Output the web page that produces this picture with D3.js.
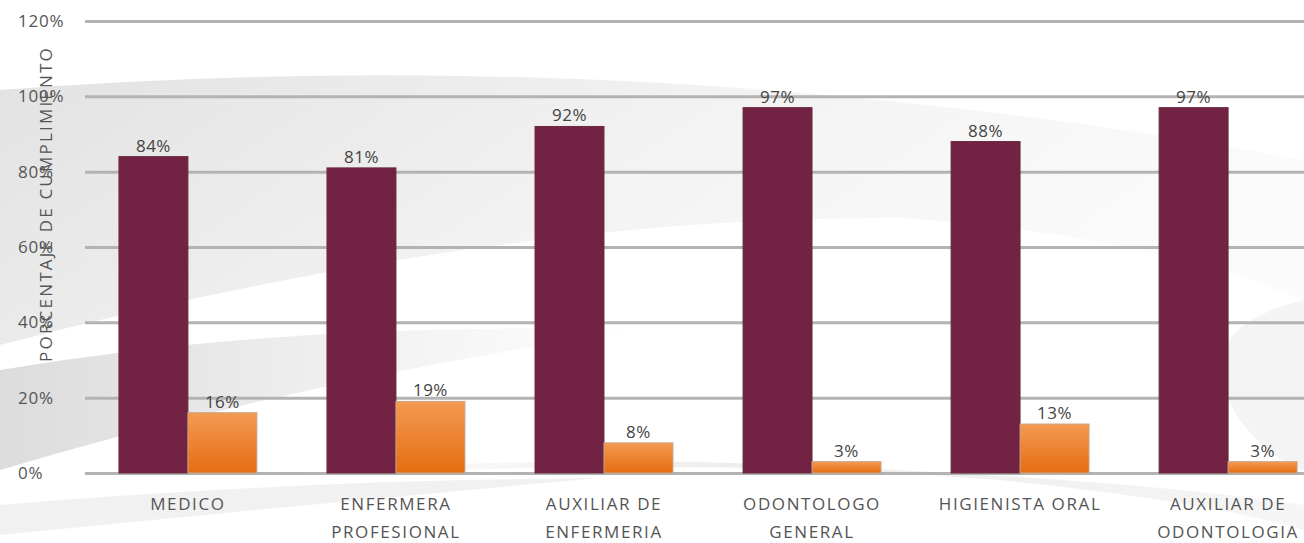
<!DOCTYPE html>
<html>
<head>
<meta charset="utf-8">
<script src="https://cdn.jsdelivr.net/npm/d3@7"></script>
<style>
  body { margin: 0; background: #fff; overflow: hidden; }
  svg { display: block; font-family: "Open Sans", sans-serif; }
  .tick-label { fill: #555; font-size: 17px; letter-spacing: 0.8px; }
  .cat-label { fill: #555; font-size: 17px; letter-spacing: 1.6px; }
  .value-label { fill: #444; font-size: 17px; letter-spacing: 0.5px; }
  .axis-title { fill: #555; font-size: 17px; letter-spacing: 2.2px; }
</style>
</head>
<body>
<svg></svg>
<script>
// Data
let categories = [
    ['MEDICO'],
    ['ENFERMERA', 'PROFESIONAL'],
    ['AUXILIAR DE', 'ENFERMERIA'],
    ['ODONTOLOGO', 'GENERAL'],
    ['HIGIENISTA ORAL'],
    ['AUXILIAR DE', 'ODONTOLOGIA']
]
let cumple = [84, 81, 92, 97, 88, 97]
let noCumple = [16, 19, 8, 3, 13, 3]
let yTicks = [0, 20, 40, 60, 80, 100, 120]

let width = 1304
let height = 543

let svg = d3.select('svg')
    .attr('width', width)
    .attr('height', height)

let defs = svg.append('defs')

// Orange bar gradient
let og = defs.append('linearGradient')
    .attr('id', 'orange')
    .attr('x1', 0).attr('y1', 0).attr('x2', 0).attr('y2', 1)
og.append('stop').attr('offset', '0%').attr('stop-color', '#f49a52')
og.append('stop').attr('offset', '100%').attr('stop-color', '#e56d12')

// Background swoosh gradients
let bg1 = defs.append('linearGradient')
    .attr('id', 'bg1')
    .attr('x1', 0).attr('y1', 0).attr('x2', 1).attr('y2', 0.3)
bg1.append('stop').attr('offset', '0%').attr('stop-color', '#e2e2e2')
bg1.append('stop').attr('offset', '55%').attr('stop-color', '#f3f3f3')
bg1.append('stop').attr('offset', '100%').attr('stop-color', '#fbfbfb')

let bg2 = defs.append('linearGradient')
    .attr('id', 'bg2')
    .attr('x1', 0).attr('y1', 0).attr('x2', 1).attr('y2', 0)
bg2.append('stop').attr('offset', '0%').attr('stop-color', '#dcdcdc')
bg2.append('stop').attr('offset', '60%').attr('stop-color', '#f2f2f2')
bg2.append('stop').attr('offset', '100%').attr('stop-color', '#ffffff')

let bg3 = defs.append('linearGradient')
    .attr('id', 'bg3')
    .attr('x1', 0).attr('y1', 0).attr('x2', 1).attr('y2', 0)
bg3.append('stop').attr('offset', '0%').attr('stop-color', '#ffffff')
bg3.append('stop').attr('offset', '50%').attr('stop-color', '#ececec')
bg3.append('stop').attr('offset', '100%').attr('stop-color', '#f6f6f6')

// Background decoration
let back = svg.append('g')
back.append('path')
    .attr('d', 'M0,90 Q650,40 1304,160 L1304,300 Q1150,235 900,218 Q500,215 0,345 Z')
    .attr('fill', 'url(#bg1)')
back.append('path')
    .attr('d', 'M0,370 Q300,320 640,330 Q300,380 0,470 Z')
    .attr('fill', 'url(#bg2)')
back.append('path')
    .attr('d', 'M1304,300 Q1180,330 1240,420 Q1270,460 1304,470 Z')
    .attr('fill', '#f4f4f4')
back.append('path')
    .attr('d', 'M250,478 Q700,455 1000,480 Q1200,500 1304,530 L1304,505 Q1100,475 700,462 Q450,458 250,478 Z')
    .attr('fill', 'url(#bg3)')
back.append('path')
    .attr('d', 'M0,505 Q300,480 600,478 Q300,505 0,535 Z')
    .attr('fill', '#f1f1f1')

// Scales
let x = d3.scaleBand()
    .domain(d3.range(categories.length))
    .range([84, 1332])
    .paddingInner(0.337)
    .paddingOuter(0.168)

let sub = d3.scaleBand()
    .domain(['cumple', 'noCumple'])
    .range([0, x.bandwidth()])

let y = d3.scaleLinear()
    .domain([0, 120])
    .range([473, 21])

// Grid
let grid = d3.axisLeft(y)
    .tickValues(yTicks)
    .tickFormat('')
    .tickSize(-(width - 85))

let gridG = svg.append('g')
    .attr('transform', 'translate(85,0)')
    .call(grid)
gridG.select('.domain').remove()
gridG.selectAll('line')
    .attr('stroke', '#b3b3b3')
    .attr('stroke-width', 3)

// Y tick labels
svg.append('g')
    .selectAll('text')
    .data(yTicks)
    .join('text')
    .attr('class', 'tick-label')
    .attr('x', 18)
    .attr('y', d => y(d))
    .attr('dy', '0.36em')
    .text(d => d + '%')

// Y axis title
svg.append('text')
    .attr('class', 'axis-title')
    .attr('transform', 'translate(52,204) rotate(-90)')
    .attr('text-anchor', 'middle')
    .text('PORCENTAJE DE CUMPLIMIENTO')

// Bars
let groups = svg.append('g')
    .selectAll('g')
    .data(categories)
    .join('g')
    .attr('transform', (d, i) => `translate(${x(i)},0)`)

groups.append('rect')
    .attr('x', sub('cumple'))
    .attr('y', (d, i) => y(cumple[i]))
    .attr('width', sub.bandwidth())
    .attr('height', (d, i) => y(0) - y(cumple[i]))
    .attr('fill', '#722242')
    .attr('stroke', '#6a2a40')
    .attr('stroke-width', 1)

groups.append('rect')
    .attr('x', sub('noCumple'))
    .attr('y', (d, i) => y(noCumple[i]))
    .attr('width', sub.bandwidth())
    .attr('height', (d, i) => y(0) - y(noCumple[i]))
    .attr('fill', 'url(#orange)')
    .attr('stroke', '#c9a385')
    .attr('stroke-width', 1)

// Value labels
groups.append('text')
    .attr('class', 'value-label')
    .attr('text-anchor', 'middle')
    .attr('x', sub('cumple') + sub.bandwidth() / 2)
    .attr('y', (d, i) => y(cumple[i]) - 5)
    .text((d, i) => cumple[i] + '%')

groups.append('text')
    .attr('class', 'value-label')
    .attr('text-anchor', 'middle')
    .attr('x', sub('noCumple') + sub.bandwidth() / 2)
    .attr('y', (d, i) => y(noCumple[i]) - 5)
    .text((d, i) => noCumple[i] + '%')

// Category labels
groups.each(function(lines) {
    let t = d3.select(this).append('text')
        .attr('class', 'cat-label')
        .attr('text-anchor', 'middle')
        .attr('x', x.bandwidth() / 2)
        .attr('y', 510)
    lines.forEach((line, j) => {
        t.append('tspan')
            .attr('x', x.bandwidth() / 2)
            .attr('dy', j === 0 ? 0 : 28)
            .text(line)
    })
})
</script>
</body>
</html>
